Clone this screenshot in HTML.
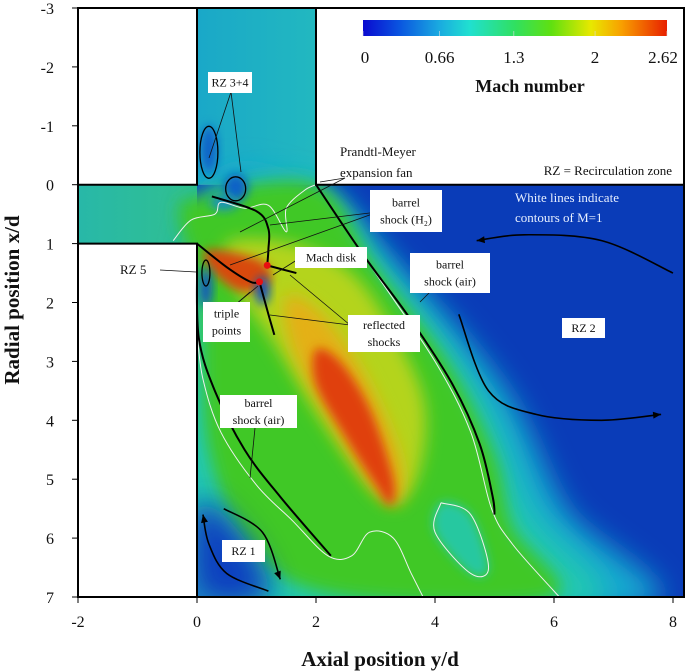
<!DOCTYPE html>
<html><head><meta charset="utf-8"><style>
html,body{margin:0;padding:0;background:#fff;}
svg{display:block;font-family:"Liberation Serif",serif;}
.t{font-size:12px;fill:#111;}
</style></head><body>
<svg id="chart" width="685" height="672" viewBox="0 0 685 672" xmlns="http://www.w3.org/2000/svg">
<defs>
<filter id="b1" x="-50%" y="-50%" width="200%" height="200%"><feGaussianBlur stdDeviation="14"/></filter>
<filter id="b2" x="-50%" y="-50%" width="200%" height="200%"><feGaussianBlur stdDeviation="8"/></filter>
<filter id="b3" x="-50%" y="-50%" width="200%" height="200%"><feGaussianBlur stdDeviation="5"/></filter>
<linearGradient id="cbar" x1="0" x2="1" y1="0" y2="0">
<stop offset="0" stop-color="#0a0ad0"/><stop offset="0.12" stop-color="#0a55e0"/><stop offset="0.25" stop-color="#1aaae0"/><stop offset="0.35" stop-color="#20e0d0"/><stop offset="0.5" stop-color="#30e060"/><stop offset="0.62" stop-color="#60e010"/><stop offset="0.75" stop-color="#e8e800"/><stop offset="0.85" stop-color="#f8a000"/><stop offset="1" stop-color="#e82000"/>
</linearGradient>
<linearGradient id="inlet" x1="0" x2="1" y1="0" y2="0"><stop offset="0" stop-color="#1aa8c8"/><stop offset="1" stop-color="#22b8c0"/></linearGradient>
<linearGradient id="hchan" x1="0" x2="1" y1="0" y2="0"><stop offset="0" stop-color="#28b8a8"/><stop offset="1" stop-color="#30c090"/></linearGradient>
<clipPath id="dom"><path id="domainPath"/></clipPath>
</defs>
<g id="field" clip-path="url(#dom)"></g>
<g id="overlay"></g>
<g id="axes"></g>
</svg>
<script>
const xTicks=[-2,0,2,4,6,8];
const yTicks=[-3,-2,-1,0,1,2,3,4,5,6,7];
const cbarTicks=[0,0.66,1.3,2,2.62];
const cbarLabels=["0","0.66","1.3","2","2.62"];
const machMax=2.62;
const plumeGreen=[[0,0.2],[2,0],[3,1.4],[4.2,3],[5,4.6],[5.3,5.8],[6,7],[2.6,7],[1,6.3],[0.2,4.5],[0.05,2],[-0.3,0.6]];
const plumeYellow=[[0.5,1.0],[1.6,1.0],[2.6,1.5],[3.3,2.5],[3.8,3.6],[3.8,4.6],[3.5,5.3],[3.0,5.2],[2.1,4.0],[1.3,2.7],[0.7,1.8]];
const plumeOrange=[[1.5,1.9],[2.1,2.2],[2.8,3.2],[3.4,4.6],[3.4,5.4],[3.0,5.2],[2.3,4.1],[1.6,2.8]];
const plumeRed=[[2.0,2.8],[2.4,3.0],[2.9,3.8],[3.3,5.0],[3.25,5.45],[3.0,5.1],[2.5,4.3],[2.0,3.4]];
const redBlob=[[0.2,1.1],[1.1,1.3],[1.2,1.7],[0.7,1.8],[0.2,1.4]];
const cyanBlob=[[4.1,5.4],[4.6,5.6],[4.9,6.5],[4.6,6.6],[4.0,5.9]];
const rz1Dark=[[0,5.4],[0.8,6.0],[1.2,7],[0,7]];
const shockH2=[[0.25,0.2],[1.0,0.45],[1.2,0.75],[1.2,1.1],[1.18,1.37]];
const shockLower=[[0,1.0],[0.5,1.4],[0.9,1.65],[1.05,1.65]];
const shockReflect=[[1.05,1.65],[1.2,2.2],[1.3,2.55]];
const machDisk=[[1.18,1.37],[1.67,1.5]];
const shockAirR=[[2,0],[2.8,1.2],[3.6,2.3],[4.3,3.4],[4.75,4.4],[4.97,5.3],[5.0,5.6]];
const shockAirL=[[0,1.45],[0.03,2.6],[0.3,3.5],[0.8,4.5],[1.4,5.3],[2.25,6.3]];
const whiteL=[[0,2.5],[0.1,3.3],[0.4,4.2],[1.0,5.1],[1.6,5.7],[2.2,6.3],[2.6,6.3],[2.9,5.9],[3.3,6.0],[3.6,6.6],[3.8,7]];
const whiteR=[[2,0],[3,1.5],[4,3.0],[4.6,4.2],[4.95,5.5],[5.3,6.1],[6,6.9],[6.1,7]];
const whiteTop=[[-0.4,0.95],[-0.1,0.6],[0.3,0.5],[0.4,0.3],[0.8,0.4],[1.2,0.35],[1.5,0.8],[1.5,0.4],[1.8,0.1],[2,0]];
const cyanLine=[[4.1,5.4],[4.6,5.6],[4.9,6.5],[4.6,6.6],[4.0,5.9],[4.1,5.4]];
const rz2Top=[[8,1.5],[6.8,0.95],[5.5,0.85],[4.7,0.95]];
const rz2Bot=[[4.4,2.2],[4.9,3.5],[5.7,3.9],[6.8,4.0],[7.8,3.9]];
const rz1a=[[0.45,5.5],[1.1,5.9],[1.4,6.7]];
const rz1b=[[1.2,6.9],[0.5,6.6],[0.2,6.1],[0.1,5.6]];

const X=v=>197+59.5*v, Y=v=>184.7+58.9*v;
const NS="http://www.w3.org/2000/svg";
function mk(tag,attrs,parent,txt){const e=document.createElementNS(NS,tag);for(const k in attrs)e.setAttribute(k,attrs[k]);if(txt!==undefined)e.textContent=txt;parent.appendChild(e);return e;}
function smooth(a,closed){const P=a.map(p=>[X(p[0]),Y(p[1])]);let d="M"+P[0][0]+","+P[0][1];const n=P.length;const g=i=>closed?P[(i+n)%n]:P[Math.max(0,Math.min(n-1,i))];const m=closed?n:n-1;for(let i=0;i<m;i++){const p0=g(i-1),p1=g(i),p2=g(i+1),p3=g(i+2);d+=" C"+(p1[0]+(p2[0]-p0[0])/6)+","+(p1[1]+(p2[1]-p0[1])/6)+" "+(p2[0]-(p3[0]-p1[0])/6)+","+(p2[1]-(p3[1]-p1[1])/6)+" "+p2[0]+","+p2[1];}return d+(closed?"Z":"");}

document.getElementById('domainPath').setAttribute('d',`M${X(0)},${Y(-3)}H${X(2)}V${Y(0)}H684V${Y(7)}H${X(0)}V${Y(1)}H${X(-2)}V${Y(0)}H${X(0)}Z`);
const field=document.getElementById('field');
let e;
e=mk('rect',{x:X(0),y:Y(-3),width:X(2)-X(0),height:Y(0)-Y(-3),fill:'url(#inlet)'},field);

e=mk('rect',{x:X(-2),y:Y(0),width:X(0)-X(-2),height:Y(1)-Y(0),fill:'url(#hchan)'},field);

e=mk('rect',{x:X(0),y:Y(0),width:684-X(0),height:Y(7)-Y(0),fill:'#0a3cb8'},field);

e=mk('path',{d:smooth([[1.8,0],[3.5,1.5],[5.2,3.5],[6.2,5.5],[7.5,7.2],[0,7.2],[0,0.5]],true),fill:'#18a8d0',filter:'url(#b1)'},field);

e=mk('path',{d:smooth([[1.9,0],[3.3,1.6],[4.8,3.6],[5.6,5.5],[6.6,7.2],[0.3,7.2],[0,1]],true),fill:'#20c8b0',filter:'url(#b1)'},field);

const regions=[[plumeGreen,'#40c828','b2','plume-green'],[rz1Dark,'#0a40c0','b1','rz1-region'],[plumeYellow,'#b4d41c','b2','plume-yellow'],[plumeOrange,'#e4b014','b2','plume-orange'],[plumeRed,'#e04010','b3','plume-red'],[redBlob,'#d84a10','b3','red-blob'],[cyanBlob,'#28c8a0','b3','cyan-blob']];
regions.forEach(r=>{const el=mk('path',{d:smooth(r[0],true),fill:r[1],filter:'url(#'+r[2]+')'},field);});
[[0.2,-0.6,8,24,'#1060c8'],[0.65,0.05,12,14,'#1060c8'],[0.15,1.75,6,20,'#1050c8'],[0.45,0.3,14,8,'#1890c0'],[1.1,1.8,7,14,'#1050c0']].forEach(s=>{const el=mk('ellipse',{cx:X(s[0]),cy:Y(s[1]),rx:s[2],ry:s[3],fill:s[4],filter:'url(#b3)'},field);});
[whiteL,whiteR,whiteTop,cyanLine].forEach(c=>{const el=mk('path',{d:smooth(c,false),fill:'none',stroke:'#f0f0f0','stroke-width':1},field);});

const ov=document.getElementById('overlay');
e=mk('path',{d:`M${X(0)},${Y(-3)}V${Y(0)}H${X(-2)}M${X(2)},${Y(-3)}V${Y(0)}H684M${X(-2)},${Y(1)}H${X(0)}V${Y(7)}`,fill:'none',stroke:'#000','stroke-width':2},ov);

[[shockH2,'barrel-shock-h2'],[shockLower,'barrel-shock-lower'],[shockReflect,'reflected-shock'],[machDisk,'mach-disk'],[shockAirR,'barrel-shock-air-right'],[shockAirL,'barrel-shock-air-left']].forEach(s=>{const el=mk('path',{d:smooth(s[0],false),fill:'none',stroke:'#000','stroke-width':2},ov);});
[[0.2,-0.55,9,26],[0.65,0.07,10,12],[0.15,1.5,4,13]].forEach(s=>{const el=mk('ellipse',{cx:X(s[0]),cy:Y(s[1]),rx:s[2],ry:s[3],fill:'none',stroke:'#000','stroke-width':1.3},ov);});
[[1.18,1.37],[1.05,1.65]].forEach(p=>{const el=mk('circle',{cx:X(p[0]),cy:Y(p[1]),r:3.5,fill:'#e81010'},ov);});
function arrowLine(a,name){const el=mk('path',{d:smooth(a,false),fill:'none',stroke:'#000','stroke-width':1.6},ov);
 const p=a[a.length-1],q=a[a.length-2];const x2=X(p[0]),y2=Y(p[1]),x1=X(q[0]),y1=Y(q[1]);const ang=Math.atan2(y2-y1,x2-x1);const L=8,W=3.5;
 const h=mk('polygon',{points:`${x2},${y2} ${x2-L*Math.cos(ang)+W*Math.sin(ang)},${y2-L*Math.sin(ang)-W*Math.cos(ang)} ${x2-L*Math.cos(ang)-W*Math.sin(ang)},${y2-L*Math.sin(ang)+W*Math.cos(ang)}`,fill:'#000'},ov);}
arrowLine(rz2Top,'rz2-arrow-top');arrowLine(rz2Bot,'rz2-arrow-bottom');arrowLine(rz1a,'rz1-arrow-a');arrowLine(rz1b,'rz1-arrow-b');
const pointers=[[231,92,209,158],[231,92,241,172],[345,178,240,232],[345,178,320,182],[378,212,270,225],[378,212,230,265],[300,258,273,275],[430,292,420,302],[350,325,290,275],[350,325,270,315],[235,305,258,286],[235,305,250,292],[160,270,196,272],[255,428,250,478]];
pointers.forEach(p=>{const el=mk('line',{x1:p[0],y1:p[1],x2:p[2],y2:p[3],stroke:'#111','stroke-width':0.8},ov);});
const boxes=[[208,72,44,21,['RZ 3+4'],'label-rz34'],[370,190,72,42,['barrel','shock (H\u2082)'],'label-barrel-h2'],[295,247,72,21,['Mach disk'],'label-mach-disk'],[410,253,80,40,['barrel','shock (air)'],'label-barrel-air-right'],[203,302,47,40,['triple','points'],'label-triple-points'],[348,315,72,37,['reflected','shocks'],'label-reflected-shocks'],[562,318,43,20,['RZ 2'],'label-rz2'],[220,395,77,33,['barrel','shock (air)'],'label-barrel-air-left'],[222,540,43,22,['RZ 1'],'label-rz1']];
boxes.forEach(b=>{const g=mk('g',{},ov);
 mk('rect',{x:b[0],y:b[1],width:b[2],height:b[3],fill:'#fff'},g);
 const n=b[4].length;b[4].forEach((t,i)=>{mk('text',{x:b[0]+b[2]/2,y:b[1]+b[3]/2+4+(i-(n-1)/2)*17,'text-anchor':'middle',class:'t'},g,t);});});
const freeText=[[340,156,'Prandtl-Meyer','start','#111','label-prandtl-meyer'],[340,177,'expansion fan','start','#111','label-expansion-fan'],[672,175,'RZ = Recirculation zone','end','#111','label-rz-legend'],[515,202,'White lines indicate','start','#e8f0ff','label-white-lines'],[515,222,'contours of M=1','start','#e8f0ff','label-contours'],[120,274,'RZ 5','start','#111','label-rz5']];
freeText.forEach(t=>{const el=mk('text',{x:t[0],y:t[1],'text-anchor':t[3],fill:t[4],'font-size':13},ov,t[2]);});
const cbX=363,cbW=304;
e=mk('rect',{x:cbX,y:20,width:cbW,height:16,fill:'url(#cbar)'},ov);
cbarTicks.forEach((v,i)=>{const x=cbX+cbW*v/machMax;const t=mk('line',{x1:x,y1:31,x2:x,y2:36,stroke:'#ddd','stroke-width':0.6},ov);
 const l=mk('text',{x:x+(i==0?2:i==4?-4:0),y:63,'text-anchor':'middle','font-size':17,fill:'#111'},ov,cbarLabels[i]);});
e=mk('text',{x:530,y:92,'text-anchor':'middle','font-size':18,'font-weight':'bold',fill:'#111'},ov,'Mach number');
const ax=document.getElementById('axes');
e=mk('rect',{x:X(-2),y:Y(-3),width:684-X(-2),height:Y(7)-Y(-3),fill:'none',stroke:'#000','stroke-width':2},ax);
xTicks.forEach(v=>{const t=mk('line',{x1:X(v),y1:Y(7),x2:X(v),y2:Y(7)+6,stroke:'#000','stroke-width':1},ax);
 const l=mk('text',{x:X(v),y:Y(7)+30,'text-anchor':'middle','font-size':16,fill:'#111'},ax,String(v));});
yTicks.forEach(v=>{const t=mk('line',{x1:X(-2)-6,y1:Y(v),x2:X(-2),y2:Y(v),stroke:'#000','stroke-width':1},ax);
 const l=mk('text',{x:X(-2)-24,y:Y(v)+6,'text-anchor':'end','font-size':16,fill:'#111'},ax,String(v));});
e=mk('text',{x:380,y:666,'text-anchor':'middle','font-size':21,'font-weight':'bold',fill:'#111'},ax,'Axial position y/d');
e=mk('text',{x:0,y:0,'text-anchor':'middle','font-size':21,'font-weight':'bold',fill:'#111',transform:'translate(19,300) rotate(-90)'},ax,'Radial position x/d');
</script>
</body></html>
